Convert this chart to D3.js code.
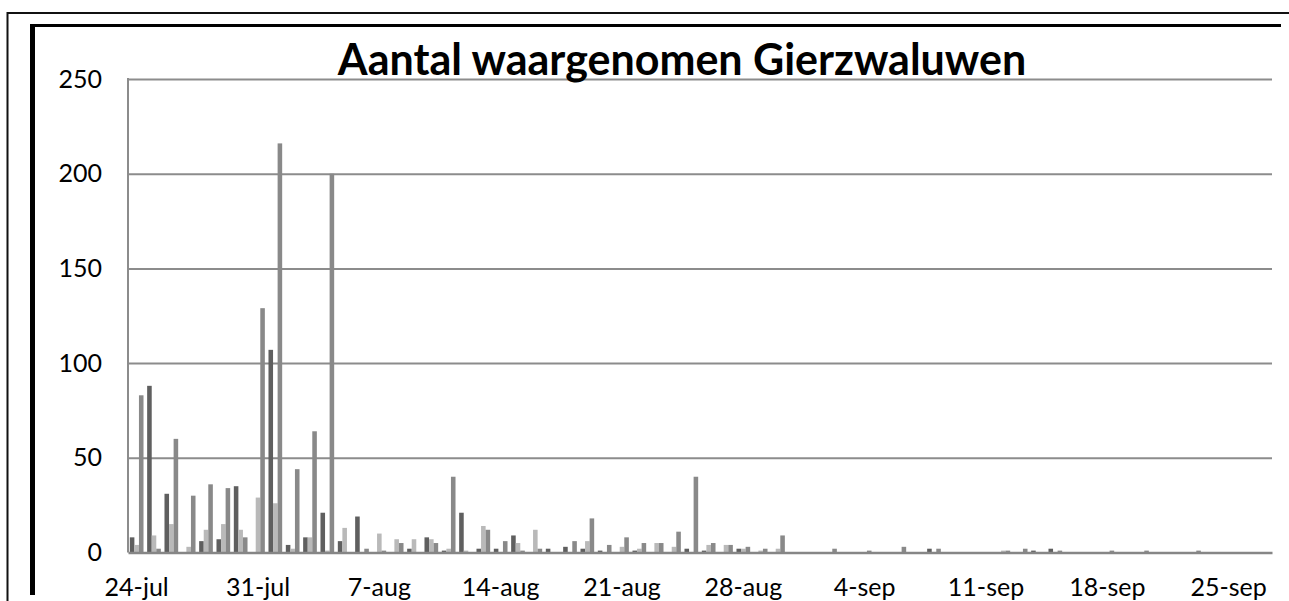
<!DOCTYPE html>
<html>
<head>
<meta charset="utf-8">
<script src="https://cdnjs.cloudflare.com/ajax/libs/d3/7.8.5/d3.min.js"></script>
<style>
  body { margin: 0; background: #fff; }
  svg { display: block; font-family: Lato, "Open Sans", sans-serif; }
</style>
</head>
<body>
<div class="graphContainer"></div>
<script>
// Days 24-jul .. 27-sep
const days = d3.timeDay.range(new Date(2012, 6, 24), new Date(2012, 8, 28));

// Counts per day, three series (dark, light, medium grey)
const seriesDark = [
    8, 88, 31, 0, 6, 7, 35, 0, 107, 4, 8, 21, 6, 19, 0, 0, 2, 8, 1, 21,
    2, 2, 9, 0, 2, 3, 2, 1, 0, 1, 0, 0, 2, 1, 0, 2, 0, 0, 0, 0,
    0, 0, 0, 0, 0, 0, 2, 0, 0, 0, 0, 0, 1, 2, 0, 0, 0, 0, 0, 0,
    0, 0, 0, 0, 0, 0
];
const seriesLight = [
    4, 9, 15, 3, 12, 15, 12, 29, 26, 2, 8, 1, 13, 0, 10, 7, 7, 7, 2, 1,
    14, 0, 5, 12, 0, 0, 6, 0, 3, 2, 5, 3, 0, 4, 4, 2, 1, 2, 0, 0,
    0, 0, 0, 0, 0, 0, 0, 0, 0, 0, 1, 0, 0, 0, 0, 0, 0, 0, 0, 0,
    0, 0, 0, 0, 0, 0
];
const seriesMedium = [
    83, 2, 60, 30, 36, 34, 8, 129, 216, 44, 64, 200, 0, 2, 1, 5, 0, 5, 40, 0,
    12, 6, 1, 2, 0, 6, 18, 4, 8, 5, 5, 11, 40, 5, 4, 3, 2, 9, 0, 0,
    2, 0, 1, 0, 3, 0, 2, 0, 0, 0, 1, 2, 0, 1, 0, 0, 1, 0, 1, 0,
    0, 1, 0, 0, 0, 0
];

const seriesNames = ['dark', 'light', 'medium'];
const seriesColors = ['#5f5f5f', '#b9b9b9', '#898989'];
const yTicks = [0, 50, 100, 150, 200, 250];
const tickDays = [0, 7, 14, 21, 28, 35, 42, 49, 56, 63];
const tickLabels = ['24-jul', '31-jul', '7-aug', '14-aug', '21-aug', '28-aug', '4-sep', '11-sep', '18-sep', '25-sep'];
const title = 'Aantal waargenomen Gierzwaluwen';

const renderChart = () => {
    const W = 1289, H = 601;
    const plot = { left: 128, right: 1272, top: 79, bottom: 552.5 };

    const svg = d3.select('.graphContainer')
        .append('svg')
        .attr('width', W)
        .attr('height', H);

    // Outer frames
    svg.append('line').attr('x1', 7).attr('x2', W).attr('y1', 13).attr('y2', 13)
        .attr('stroke', '#111').attr('stroke-width', 2);
    svg.append('line').attr('x1', 7.5).attr('x2', 7.5).attr('y1', 12).attr('y2', H)
        .attr('stroke', '#111').attr('stroke-width', 2);
    svg.append('line').attr('x1', 30).attr('x2', 1281).attr('y1', 25.5).attr('y2', 25.5)
        .attr('stroke', '#000').attr('stroke-width', 3);
    svg.append('line').attr('x1', 32.5).attr('x2', 32.5).attr('y1', 24).attr('y2', 595)
        .attr('stroke', '#000').attr('stroke-width', 5);

    // Scales
    const x0 = d3.scaleBand()
        .domain(d3.range(days.length))
        .range([plot.left, plot.right])
        .paddingInner(0.21)
        .paddingOuter(0.105);
    const x1 = d3.scaleBand()
        .domain(seriesNames)
        .range([0, x0.bandwidth()]);
    const y = d3.scaleLinear()
        .domain([0, 250])
        .range([plot.bottom, plot.top]);

    // Gridlines + y labels
    const yAxis = svg.append('g')
        .attr('transform', `translate(${plot.left},0)`)
        .call(d3.axisLeft(y).tickValues(yTicks).tickSize(-(plot.right - plot.left)).tickPadding(26));
    yAxis.select('.domain').remove();
    yAxis.selectAll('.tick line')
        .attr('stroke', '#8c8c8c').attr('stroke-width', 2)
        .attr('display', d => d === 0 ? 'none' : null);
    yAxis.selectAll('.tick text')
        .attr('font-size', 25).attr('fill', '#000')
        .attr('font-family', 'Lato, sans-serif');

    // Plot area left border
    svg.append('line')
        .attr('x1', plot.left).attr('x2', plot.left)
        .attr('y1', plot.top - 1).attr('y2', plot.bottom)
        .attr('stroke', '#8c8c8c').attr('stroke-width', 2);

    // Bars
    const data = days.map((d, i) => [
        { key: 'dark', value: seriesDark[i] },
        { key: 'light', value: seriesLight[i] },
        { key: 'medium', value: seriesMedium[i] }
    ]);
    const color = d3.scaleOrdinal().domain(seriesNames).range(seriesColors);

    svg.append('g')
        .selectAll('g')
        .data(data)
        .enter()
        .append('g')
        .attr('transform', (d, i) => `translate(${x0(i)},0)`)
        .selectAll('rect')
        .data(d => d)
        .enter()
        .append('rect')
        .attr('x', d => x1(d.key))
        .attr('width', x1.bandwidth())
        .attr('y', d => y(d.value))
        .attr('height', d => y(0) - y(d.value))
        .attr('fill', d => color(d.key));

    // X axis
    const xAxis = svg.append('g')
        .attr('transform', `translate(0,${plot.bottom})`)
        .call(d3.axisBottom(x0).tickValues(tickDays).tickSize(0).tickPadding(26)
            .tickFormat((d, i) => tickLabels[i]));
    xAxis.select('.domain')
        .attr('stroke', '#868686').attr('stroke-width', 2.5);
    xAxis.selectAll('.tick text')
        .attr('font-size', 25).attr('fill', '#000')
        .attr('font-family', 'Lato, sans-serif');

    // Title
    svg.append('text')
        .attr('x', 682)
        .attr('y', 75)
        .attr('text-anchor', 'middle')
        .attr('font-size', 43)
        .attr('font-weight', 'bold')
        .attr('fill', '#000')
        .text(title);
};

renderChart();
</script>
</body>
</html>
